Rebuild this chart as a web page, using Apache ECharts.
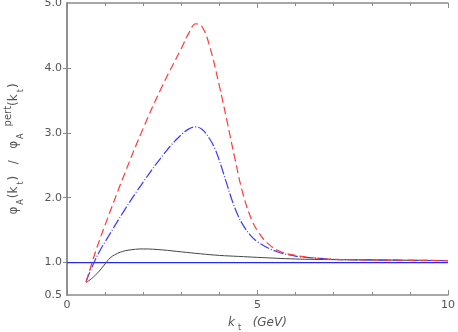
<!DOCTYPE html>
<html><head><meta charset="utf-8">
<script src="https://cdn.jsdelivr.net/npm/echarts@6/dist/echarts.min.js"></script>
<style>html,body{margin:0;padding:0;background:#fff}#c{width:458px;height:332px}</style>
</head><body><div id="c"></div>
<script>
// data
const redX = [0.5,0.75,1.0,1.5,2.0,2.5,3.0,3.2,3.38,3.55,3.75,4.0,4.2,4.4,4.6,4.8,5.0,5.3,5.6,6.0,6.5,7,8,9,10];
const redY = [0.70,1.17,1.58,2.35,3.07,3.72,4.30,4.54,4.68,4.63,4.32,3.72,3.18,2.62,2.10,1.73,1.49,1.28,1.17,1.11,1.07,1.05,1.04,1.035,1.03];
const blueX = [0.5,0.7,0.87,1.0,1.5,2.0,2.62,3.0,3.2,3.38,3.55,3.75,3.9,4.05,4.2,4.35,4.5,4.65,4.8,5.0,5.5,6.1,6.5,7,8,9,10];
const blueY = [0.71,0.99,1.19,1.32,1.80,2.24,2.73,2.97,3.06,3.09,3.05,2.90,2.73,2.48,2.20,1.93,1.71,1.55,1.43,1.32,1.17,1.09,1.07,1.05,1.04,1.035,1.03];
const blackX = [0.5,0.7,0.87,1.0,1.13,1.25,1.4,1.6,2.0,2.5,3.0,3.5,4.0,4.5,5,6,7,8,9,10];
const blackY = [0.69,0.78,0.885,0.98,1.07,1.12,1.16,1.19,1.21,1.195,1.165,1.135,1.11,1.095,1.08,1.055,1.045,1.04,1.035,1.03];
const refX = [0,10];
const refY = [1,1];
const yLabelValues = [0.5,1,2,3,4,5];
const yTickValues = [1,2,3,4];
const xLabelValues = [0,5,10];

const zip = (xs, ys) => xs.map((x,i)=>[x, ys[i]]);
const axisGrey = '#8a8a8a';
const textGrey = '#555';
const font = 'DejaVu Sans';

const chart = echarts.init(document.getElementById('c'), null, {renderer:'canvas'});
const xBase = {
  type:'value', min:0, max:10, interval:5,
  axisLine:{show:true, lineStyle:{color:axisGrey, width:1.5}},
  axisTick:{show:true, inside:true, length:5, lineStyle:{color:axisGrey}},
  minorTick:{show:true, splitNumber:5, length:3, lineStyle:{color:axisGrey}},
  splitLine:{show:false}, minorSplitLine:{show:false}
};
const yBase = {
  type:'value', min:0.5, max:5,
  axisLine:{show:true, lineStyle:{color:axisGrey, width:1.5}},
  axisTick:{show:true, inside:true, length:4, customValues:yTickValues, lineStyle:{color:axisGrey}},
  splitLine:{show:false}
};
const lineCommon = {type:'line', showSymbol:false, smooth:0.4};
chart.setOption({
  animation:false,
  grid:{left:67, right:10, top:3, bottom:37, containLabel:false, outerBoundsMode:'none'},
  xAxis:[
    Object.assign({}, xBase, {position:'bottom',
      axisLabel:{show:true, customValues:xLabelValues, color:textGrey, fontFamily:font, fontSize:11, margin:5},
      name:'{m|k}{s|t}{m|   (GeV)}', nameLocation:'middle', nameGap:19,
      nameTextStyle:{color:textGrey, fontFamily:font, rich:{
        m:{fontSize:12, fontStyle:'italic', color:textGrey, fontFamily:font, lineHeight:18, verticalAlign:'middle'},
        s:{fontSize:8, color:textGrey, fontFamily:font, lineHeight:18, verticalAlign:'bottom', padding:[0,0,0,3]}
      }}}),
    Object.assign({}, xBase, {position:'top', axisLabel:{show:false}})
  ],
  yAxis:[
    Object.assign({}, yBase, {position:'left',
      axisLabel:{show:true, customValues:yLabelValues, color:textGrey, fontFamily:font, fontSize:11, margin:5,
        formatter:v=>v.toFixed(1)},
      name:'{m|φ}{s|A}{m|(k}{s|t}{m|)   /   φ}{s|A}{p|pert}{m|(k}{s|t}{m|)}', nameLocation:'middle', nameGap:42, nameRotate:90,
      nameTextStyle:{color:textGrey, fontFamily:font, rich:{
        m:{fontSize:12, color:textGrey, fontFamily:font, lineHeight:22, verticalAlign:'middle'},
        s:{fontSize:8, color:textGrey, fontFamily:font, lineHeight:22, verticalAlign:'bottom', padding:[0,1,0,2]},
        p:{fontSize:10, color:textGrey, fontFamily:font, lineHeight:22, verticalAlign:'top', padding:[0,0,0,6]}
      }}}),
    Object.assign({}, yBase, {position:'right', axisLabel:{show:false}})
  ],
  series:[
    Object.assign({}, lineCommon, {data:zip(refX, refY), smooth:false, lineStyle:{color:'#2a2ae6', width:1.2}, z:1}),
    Object.assign({}, lineCommon, {data:zip(blackX, blackY), lineStyle:{color:'#444', width:1}, z:2}),
    Object.assign({}, lineCommon, {data:zip(blueX, blueY), lineStyle:{color:'#3a3aff', width:1.2, type:[10,2,1,2]}, z:3}),
    Object.assign({}, lineCommon, {data:zip(redX, redY), lineStyle:{color:'#ff3b3b', width:1.2, type:[8,4]}, z:4})
  ]
});
</script></body></html>
